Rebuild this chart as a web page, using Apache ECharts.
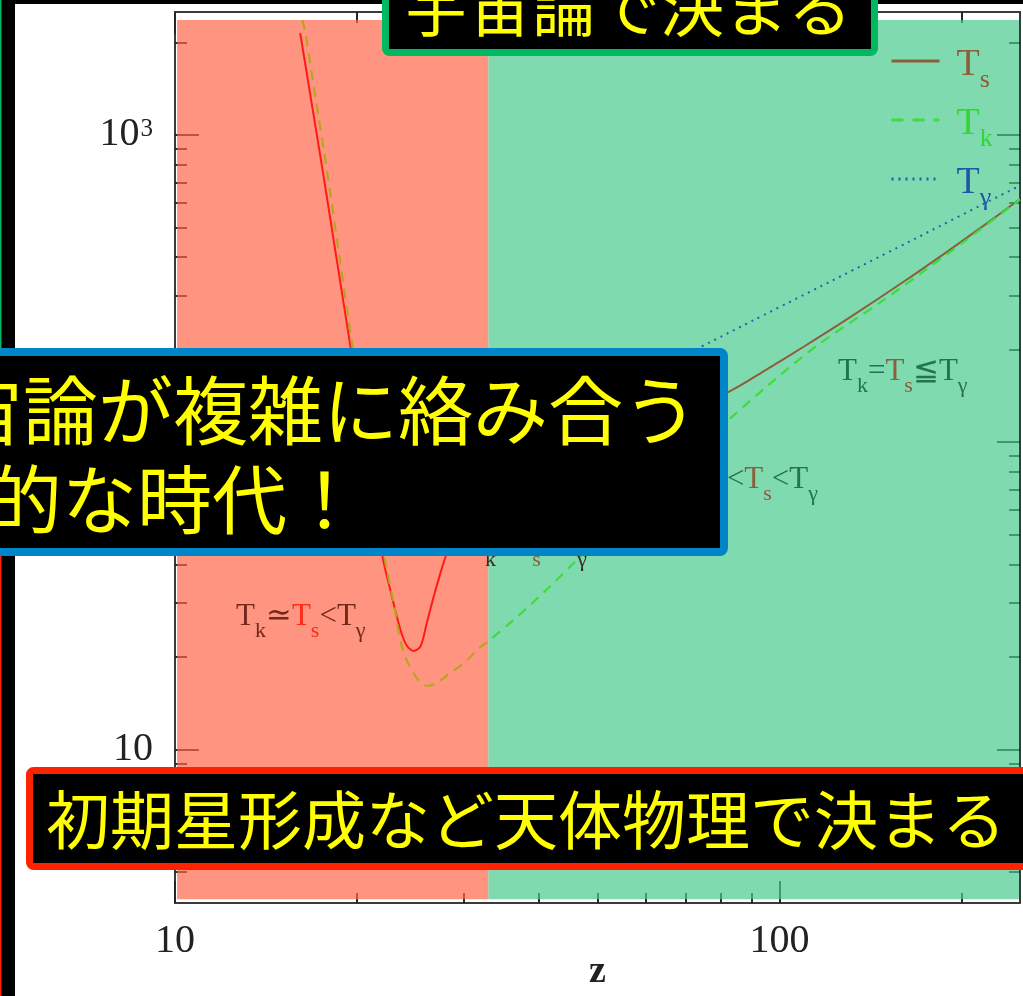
<!DOCTYPE html>
<html>
<head>
<meta charset="utf-8">
<title>スピン温度の進化</title>
<script src="https://cdn.jsdelivr.net/npm/echarts@6/dist/echarts.min.js"></script>
<style>
  html, body { margin: 0; padding: 0; background: #fff; }
  #chart { width: 1023px; height: 996px; }
</style>
</head>
<body>
<div id="chart"></div>
<script>
// 軸の範囲 (両対数)
const zRange = [10, 250];
const tRange = [3.16, 2512];

// 赤い領域(天体物理) と 緑の領域(宇宙論) の境目
const zoneEdge = 33;
const zoneRed = [[10.08, 2366], [33, 3.25]];
const zoneGreen = [[33, 2366], [249, 3.25]];

// T_s : スピン温度
const tsZ = [16.11, 16.8, 17.51, 18.5, 19.51, 21.0, 22.04, 22.7, 23.6, 24.2, 24.85, 25.5, 26.1, 26.8, 27.5, 28.05,
  29, 30, 32, 35, 40, 50, 60, 70, 82.7, 95, 110, 130, 160, 190, 220, 250];
const tsT = [2146, 1296, 787, 397, 204.5, 81, 42.5, 33.1, 24.5, 21.7, 20.9, 21.7, 25.8, 31.5, 37.6, 42.5,
  50, 57, 68, 80, 92, 104, 116, 129, 146.3, 171.9, 205.1, 252.7, 331.3, 418.6, 514.2, 618.6];

// T_k : ガスの運動温度
const tkZ = [16.24, 16.43, 17.1, 17.8, 18.7, 19.66, 21.2, 22.2, 23.0, 23.88, 25.2, 26.15, 27.2, 28.6, 30.1, 31.64,
  33.0, 36.9, 41.8, 46.9, 60, 70, 83.2, 100, 116.5, 147.6, 172, 200, 242.5, 250];
const tkT = [2366, 2146, 1301, 787, 403, 204.5, 80, 42.5, 30, 20.7, 16.9, 16.1, 16.5, 17.8, 19.1, 21.1,
  22.5, 27.1, 34.0, 42.5, 66.6, 88, 120.1, 164.5, 209, 287, 356, 443, 589, 617];

// T_γ : CMB 温度
const tgZ = [33, 50, 70, 100, 150, 200, 250];
const tgT = [92.6, 139, 193, 275, 411, 548, 684];

// 目盛り
const zMajor = [10, 100];
const zMinor = [20, 30, 40, 50, 60, 70, 80, 90, 200];
const tMajor = [10, 100, 1000];
const tMinor = [4, 5, 6, 7, 8, 9, 20, 30, 40, 50, 60, 70, 80, 90,
  200, 300, 400, 500, 600, 700, 800, 900, 2000];

const serif = "'Liberation Serif', 'DejaVu Serif', serif";
const jp = "'Noto Sans CJK JP', sans-serif";

const colTs = ['#ff1a14', '#8b5e3c'];
const colTk = ['#b8a51c', '#3ddc3d'];
const colTg = '#2a5db0';

function pairs(xs, ys) {
  return xs.map((x, i) => [x, ys[i]]);
}

function logAxis(range, pos, ticks, len, line) {
  return {
    type: 'log',
    position: pos,
    min: range[0],
    max: range[1],
    axisLine: { show: line, lineStyle: { color: '#3a3a3a', width: 2 } },
    axisTick: { show: true, inside: true, length: len, customValues: ticks, lineStyle: { color: '#262626', width: 2 } },
    axisLabel: { show: false },
    splitLine: { show: false },
    minorTick: { show: false }
  };
}

const xBottom = logAxis(zRange, 'bottom', zMajor, 22, true);
xBottom.axisLabel = {
  show: true, customValues: zMajor, margin: 18,
  fontFamily: serif, fontSize: 40, color: '#222',
  formatter: v => String(Math.round(v))
};
xBottom.name = 'z';
xBottom.nameLocation = 'middle';
xBottom.nameGap = 50;
xBottom.nameMoveOverlap = false;
xBottom.nameTextStyle = { fontFamily: serif, fontSize: 38, fontWeight: 'bold', color: '#222' };

const yLeft = logAxis(tRange, 'left', tMajor, 24, true);
yLeft.axisLabel = {
  show: true, customValues: tMajor, margin: 22,
  formatter: v => {
    const e = Math.round(Math.log10(v));
    return e === 1 ? '{b|10}' : '{b|10}{sup|' + e + '}';
  },
  rich: {
    b: { fontFamily: serif, fontSize: 40, color: '#222', lineHeight: 40 },
    sup: { fontFamily: serif, fontSize: 25, color: '#222', lineHeight: 10, verticalAlign: 'top', padding: [2, 0, 0, 1] }
  }
};

// 凡例の文字 (添字付き)
function legendRich(key, color) {
  const r = {};
  r['t' + key] = { fontFamily: serif, fontSize: 38, color: color, lineHeight: 44, padding: [8, 0, 0, 12] };
  r['s' + key] = { fontFamily: serif, fontSize: 26, color: color, lineHeight: 10, verticalAlign: 'top', padding: [28, 0, 0, 0] };
  return r;
}

const chart = echarts.init(document.getElementById('chart'));

chart.setOption({
  animation: false,
  backgroundColor: '#fff',
  grid: { left: 175, right: 3, top: 12, bottom: 93, outerBoundsMode: 'none' },
  xAxis: [
    xBottom,
    logAxis(zRange, 'bottom', zMinor, 10, false),
    logAxis(zRange, 'top', zMajor, 22, true),
    logAxis(zRange, 'top', zMinor, 11, false)
  ],
  yAxis: [
    yLeft,
    logAxis(tRange, 'left', tMinor, 12, false),
    logAxis(tRange, 'right', tMajor, 23, true),
    logAxis(tRange, 'right', tMinor, 11, false)
  ],
  legend: {
    orient: 'vertical', left: 890, top: 38, padding: 0,
    itemWidth: 48, itemHeight: 14, itemGap: 4,
    selectedMode: false,
    data: [
      { name: 'Ts', lineStyle: { color: colTs[1], width: 3, type: 'solid' }, itemStyle: { color: 'rgba(0,0,0,0)', opacity: 0 } },
      { name: 'Tk', lineStyle: { color: colTk[1], width: 3, type: [12, 9] }, itemStyle: { color: 'rgba(0,0,0,0)', opacity: 0 } },
      { name: 'Tg', lineStyle: { color: colTg, width: 3, type: [2, 5] }, itemStyle: { color: 'rgba(0,0,0,0)', opacity: 0 } }
    ],
    formatter: n => ({ Ts: '{tS|T}{sS|s}', Tk: '{tK|T}{sK|k}', Tg: '{tG|T}{sG|γ}' })[n],
    textStyle: {
      rich: Object.assign({}, legendRich('S', '#8b5e3c'), legendRich('K', '#33d633'), legendRich('G', '#1f56a8'))
    }
  },
  visualMap: [
    {
      type: 'piecewise', show: false, seriesIndex: 0, dimension: 0,
      pieces: [{ min: 1, max: zoneEdge, color: colTs[0] }, { gt: zoneEdge, max: 1000, color: colTs[1] }]
    },
    {
      type: 'piecewise', show: false, seriesIndex: 1, dimension: 0,
      pieces: [{ min: 1, max: zoneEdge, color: colTk[0] }, { gt: zoneEdge, max: 1000, color: colTk[1] }]
    }
  ],
  series: [
    {
      name: 'Ts', type: 'line', data: pairs(tsZ, tsT), symbol: 'none', smooth: 0.3,
      lineStyle: { width: 2 }, z: 3,
      markArea: {
        silent: true,
        data: [
          [{ coord: zoneRed[0], itemStyle: { color: 'rgba(255,104,74,0.7)' } }, { coord: zoneRed[1] }],
          [{ coord: zoneGreen[0], itemStyle: { color: 'rgba(72,204,141,0.7)' } }, { coord: zoneGreen[1] }]
        ]
      }
    },
    {
      name: 'Tk', type: 'line', data: pairs(tkZ, tkT), symbol: 'none', smooth: 0.3,
      lineStyle: { width: 2.2, type: [10, 7] }, z: 4
    },
    {
      name: 'Tg', type: 'line', data: pairs(tgZ, tgT), symbol: 'none', smooth: true,
      lineStyle: { width: 2, type: [2, 5], color: colTg }, itemStyle: { color: colTg }, z: 4
    }
  ]
});

// 図中の注記 (添字付きの温度関係)
function relLabel(x, y, text, align, main, sub) {
  const subStyle = c => ({ fontFamily: serif, fontSize: 22, lineHeight: 8, verticalAlign: 'top', padding: [21, 0, 0, 0], fill: c });
  return {
    type: 'text', z: 50,
    style: {
      x: x, y: y, text: text, align: align, verticalAlign: 'middle',
      rich: {
        a: { fontFamily: serif, fontSize: 31, lineHeight: 36, fill: main[0] },
        b: { fontFamily: serif, fontSize: 31, lineHeight: 36, fill: main[1] },
        sa: subStyle(sub[0]),
        sb: subStyle(sub[1])
      }
    }
  };
}

// 枠付きの黒い吹き出し
function box(l, t, r, b, lw, color) {
  return {
    type: 'rect', z: 100,
    shape: { x: l + lw / 2, y: t + lw / 2, width: r - l - lw, height: b - t - lw, r: 4 },
    style: { fill: '#000', stroke: color, lineWidth: lw }
  };
}

function jpText(x, y, text, size, align) {
  return {
    type: 'text', z: 101,
    style: { x: x, y: y, text: text, align: align, verticalAlign: 'middle', fontSize: size, fontFamily: jp, fill: '#ffff00' }
  };
}

chart.setOption({
  graphic: [
    { type: 'rect', z: 1, shape: { x: 0, y: 0, width: 15, height: 996 }, style: { fill: '#000' } },
    { type: 'rect', z: 1, shape: { x: 0, y: 0, width: 1023, height: 4 }, style: { fill: '#000' } },
    { type: 'rect', z: 2, shape: { x: 0, y: 0, width: 1.5, height: 348 }, style: { fill: '#00b860' } },
    { type: 'rect', z: 2, shape: { x: 0, y: 556, width: 1.5, height: 440 }, style: { fill: '#ff2200' } },

    relLabel(236, 617, '{a|T}{sa|k}{a|≃}{b|T}{sb|s}{a|<T}{sa|γ}', 'left', ['#74281a', '#ff2a1a'], ['#74281a', '#ff2a1a']),
    relLabel(838, 372, '{a|T}{sa|k}{a|=}{b|T}{sb|s}{a|≦T}{sa|γ}', 'left', ['#24734a', '#8b5e3c'], ['#24734a', '#8b5e3c']),
    relLabel(818, 480, '{a|T}{sa|k}{a|<}{b|T}{sb|s}{a|<T}{sa|γ}', 'right', ['#24734a', '#8b5e3c'], ['#24734a', '#8b5e3c']),
    relLabel(466, 546, '{a|T}{sa|k}{a|<}{b|T}{sb|s}{a|<T}{sa|γ}', 'left', ['#3a2a20', '#8b5e3c'], ['#3a2a20', '#8b5e3c']),

    box(382, -50, 878, 56, 7, '#00b860'),
    jpText(404, 7, '宇宙論で決まる', 64, 'left'),

    box(-40, 348, 728, 556, 8, '#0085c8'),
    jpText(698, 410, '宇宙論が複雑に絡み合う', 75, 'right'),
    jpText(362, 499, '刺激的な時代！', 75, 'right'),

    box(26, 767, 1060, 870, 7, '#ff2200'),
    jpText(46, 820, '初期星形成など天体物理で決まる', 64, 'left')
  ]
});
</script>
</body>
</html>
